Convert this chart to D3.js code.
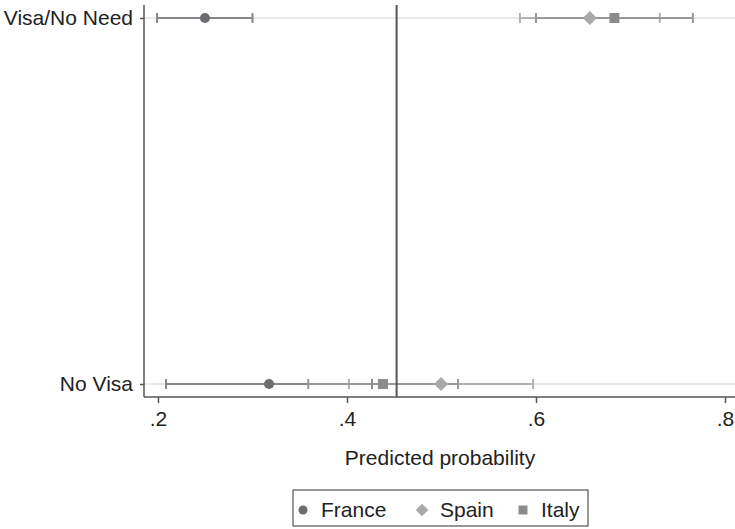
<!DOCTYPE html>
<html><head><meta charset="utf-8">
<script src="https://cdn.jsdelivr.net/npm/d3@7"></script>
<style>body{margin:0;background:#fff}svg{display:block}text{font-family:"Liberation Sans",Arial,sans-serif;fill:#222}</style>
</head><body><svg id="c" width="735" height="529"></svg>
<script>
const categories = ["Visa/No Need", "No Visa"];
const countries = ["France", "Spain", "Italy"];
const estFrance = [0.2497, 0.3175];
const loFrance  = [0.199, 0.2085];
const hiFrance  = [0.300, 0.4265];
const estSpain  = [0.657, 0.4995];
const loSpain   = [0.583, 0.402];
const hiSpain   = [0.731, 0.597];
const estItaly  = [0.683, 0.438];
const loItaly   = [0.600, 0.359];
const hiItaly   = [0.766, 0.5175];
const xTicks = [0.2, 0.4, 0.6, 0.8];
const xTickLabels = [".2", ".4", ".6", ".8"];
const refLine = 0.4525;
const xTitle = "Predicted probability";

const symbolRotSquare = {draw(ctx, size){ const r = Math.sqrt(size/2);
  ctx.moveTo(0,-r); ctx.lineTo(r,0); ctx.lineTo(0,r); ctx.lineTo(-r,0); ctx.closePath(); }};

const colors = {France:"#6d6d71", Spain:"#a9a9ab", Italy:"#8b8b8e"};
const lineColors = {France:"#87878a", Spain:"#b1b1b3", Italy:"#98989b"};
const series = [
  {name:"France", est:estFrance, lo:loFrance, hi:hiFrance, shape:d3.symbolCircle, size:80},
  {name:"Spain", est:estSpain, lo:loSpain, hi:hiSpain, shape:symbolRotSquare, size:100},
  {name:"Italy", est:estItaly, lo:loItaly, hi:hiItaly, shape:d3.symbolSquare, size:100}
];

const svg = d3.select("#c");
const x = d3.scaleLinear().domain([0.2, 0.8]).range([158, 725]);
const y = d3.scalePoint().domain(categories).range([18, 384]);
const pLeft = 144, pRight = 735, pTop = 5, pBottom = 397;
const fs = 21;

svg.selectAll(".grid").data(categories).enter().append("line")
  .attr("x1", pLeft).attr("x2", pRight).attr("y1", d=>y(d)).attr("y2", d=>y(d))
  .attr("stroke", "#eaeaea").attr("stroke-width", 2);

series.forEach(s=>{
  const g = svg.append("g");
  categories.forEach((c,i)=>{
    const yy = y(c);
    g.append("line").attr("x1", x(s.lo[i])).attr("x2", x(s.hi[i])).attr("y1", yy).attr("y2", yy)
      .attr("stroke", lineColors[s.name]).attr("stroke-width", 2);
    [s.lo[i], s.hi[i]].forEach(v=>{
      g.append("line").attr("x1", x(v)).attr("x2", x(v)).attr("y1", yy-5).attr("y2", yy+5)
        .attr("stroke", lineColors[s.name]).attr("stroke-width", 2);
    });
  });
});
series.forEach(s=>{
  categories.forEach((c,i)=>{
    svg.append("path").attr("d", d3.symbol().type(s.shape).size(s.size)())
      .attr("transform", `translate(${x(s.est[i])},${y(c)})`)
      .attr("fill", colors[s.name]);
  });
});

svg.append("line").attr("x1", x(refLine)).attr("x2", x(refLine)).attr("y1", pTop).attr("y2", pBottom)
  .attr("stroke", "#555").attr("stroke-width", 2);

const xAxis = svg.append("g").attr("transform", `translate(0,${pBottom})`)
  .call(d3.axisBottom(x).tickValues(xTicks).tickFormat((d,i)=>xTickLabels[i]).tickSize(6).tickPadding(8));
xAxis.select(".domain").remove();
xAxis.selectAll(".tick line").attr("stroke", "#555").attr("stroke-width", 1.5);
xAxis.selectAll(".tick text").attr("font-size", fs).attr("font-family", "Liberation Sans").attr("fill", "#222");
svg.append("line").attr("x1", pLeft).attr("x2", pRight).attr("y1", pBottom).attr("y2", pBottom)
  .attr("stroke", "#555").attr("stroke-width", 1.5);

const yAxis = svg.append("g").attr("transform", `translate(${pLeft},0)`)
  .call(d3.axisLeft(y).tickSize(4).tickPadding(7));
yAxis.select(".domain").remove();
yAxis.selectAll(".tick line").attr("stroke", "#555").attr("stroke-width", 1.5);
yAxis.selectAll(".tick text").attr("font-size", fs).attr("font-family", "Liberation Sans").attr("fill", "#222");
svg.append("line").attr("x1", pLeft).attr("x2", pLeft).attr("y1", pTop).attr("y2", pBottom)
  .attr("stroke", "#555").attr("stroke-width", 1.5);

svg.append("text").attr("x", 440).attr("y", 465).attr("text-anchor", "middle")
  .attr("font-size", fs).text(xTitle);

const lg = svg.append("g");
lg.append("rect").attr("x", 293).attr("y", 490).attr("width", 295).attr("height", 36)
  .attr("fill", "#fff").attr("stroke", "#333").attr("stroke-width", 1);
const legX = [303, 422, 523];
series.forEach((s,i)=>{
  lg.append("path").attr("d", d3.symbol().type(s.shape).size(s.size*0.8)())
    .attr("transform", `translate(${legX[i]},510)`).attr("fill", colors[s.name]);
  lg.append("text").attr("x", legX[i]+18).attr("y", 517).attr("font-size", fs).text(s.name);
});
</script></body></html>
